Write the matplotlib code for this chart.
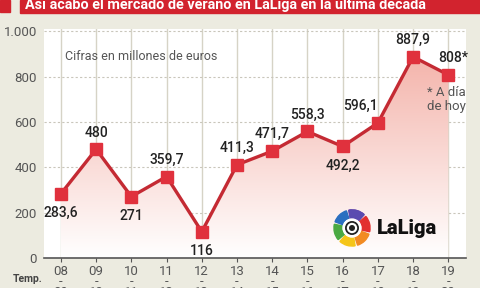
import matplotlib.pyplot as plt
import matplotlib.colors as mcolors
from matplotlib.patches import Rectangle, Wedge, Circle
import numpy as np

# data
seasons_top = ["08", "09", "10", "11", "12", "13", "14", "15", "16", "17", "18", "19"]
seasons_bot = ["09", "10", "11", "12", "13", "14", "15", "16", "17", "18", "19", "20"]
values = [283.6, 480, 271, 359.7, 116, 411.3, 471.7, 558.3, 492.2, 596.1, 887.9, 808]
labels = ["283,6", "480", "271", "359,7", "116", "411,3", "471,7", "558,3", "492,2", "596,1", "887,9", "808*"]
yticks = [0, 200, 400, 600, 800, 1000]
ytick_labels = ["0", "200", "400", "600", "800", "1.000"]

BG = "#ecebe0"
RED = "#d2232e"
LINE = "#c42a33"
GRID = "#d6d3c6"
FONT = "Roboto"

fig = plt.figure(figsize=(4.8, 2.88), dpi=100, facecolor=BG)
ax = fig.add_axes([0.0917, 0.104, 0.879, 0.795])
ax.set_facecolor("white")

x = np.arange(len(values))
ax.set_xlim(-0.48, 11.5)
ax.set_ylim(0, 1010)

# grid
for xi in x:
    ax.axvline(xi, color=GRID, lw=1.0, zorder=1)
for yv in yticks[1:]:
    ax.axhline(yv, color="#c9c6bb", lw=0.8, ls=(0, (2, 2)), zorder=1)

# gradient fill under the line
cmap = mcolors.LinearSegmentedColormap.from_list("fade", ["#ffffff", "#f4b3aa"])
grad = np.linspace(0, 1, 256).reshape(-1, 1)
poly = ax.fill_between(x, 0, values, color="none", lw=0)
img = ax.imshow(grad, cmap=cmap, aspect="auto", origin="lower",
                extent=[-0.48, 11.5, 0, 900], zorder=2)
img.set_clip_path(poly.get_paths()[0], transform=ax.transData)

ax.plot(x, values, color=LINE, lw=2.4, zorder=3)
ax.plot(x, values, ls="none", marker="s", ms=8, color="#e0313d", zorder=4)

# data labels
offsets = {0: (0, -1), 1: (0, 1), 2: (0, -1), 3: (0, 1), 4: (0, -1), 5: (0, 1),
           6: (0, 1), 7: (0, 1), 8: (0, -1), 9: (-0.35, 1), 10: (0, 1), 11: (0.1, 1)}
for i, (v, lab) in enumerate(zip(values, labels)):
    dx, up = offsets[i]
    if up > 0:
        ax.annotate(lab, (x[i], v), xytext=(dx * 35, 7), textcoords="offset points",
                    ha="center", va="bottom", fontsize=10, family=FONT,
                    fontweight="medium", color="#222222", zorder=5)
    else:
        ax.annotate(lab, (x[i], v), xytext=(dx * 35, -9), textcoords="offset points",
                    ha="center", va="top", fontsize=10, family=FONT,
                    fontweight="medium", color="#222222", zorder=5)

# axes styling
for s in ["top", "right", "left"]:
    ax.spines[s].set_visible(False)
ax.spines["bottom"].set_color("#555555")
ax.spines["bottom"].set_linewidth(1.2)
ax.set_yticks(yticks)
ax.set_yticklabels(ytick_labels, family=FONT, fontsize=9.5, color="#555555")
ax.tick_params(axis="y", length=0, pad=5)
ax.set_xticks(x)
ax.set_xticklabels([f"{a}\n-\n{b}" for a, b in zip(seasons_top, seasons_bot)],
                   family=FONT, fontsize=9.5, color="#555555", linespacing=0.75)
ax.tick_params(axis="x", length=3, color="#555555", pad=2)

# texts
ax.text(0.05, 0.88, "Cifras en millones de euros", transform=ax.transAxes,
        family=FONT, fontsize=9, color="#555555", va="center", zorder=5)
ax.text(10.95, 760, "* A día\nde hoy", ha="center", va="top", family=FONT,
        fontsize=9.5, color="#555555", linespacing=1.1, zorder=5)
fig.text(13 / 480, 1 - 279 / 288, "Temp.", family=FONT, fontsize=7.5,
         fontweight="bold", color="#444444", va="center")

# title bar (cut at the top)
fig.patches.append(Rectangle((0, 1 - 12 / 288), 10 / 480, 12 / 288, transform=fig.transFigure,
                             color=RED, zorder=0))
fig.patches.append(Rectangle((20 / 480, 1 - 13 / 288), 460 / 480, 13 / 288,
                             transform=fig.transFigure, color=RED, zorder=0))
fig.text(25 / 480, 1 - 9 / 288, "Así acabó el mercado de verano en LaLiga en la última década",
         family=FONT, fontsize=10.4, fontweight="bold", color="white", va="baseline")

# LaLiga logo
lax = fig.add_axes([333 / 480, 1 - 247 / 288, 38 / 480, 38 / 288])
lax.set_xlim(-1, 1)
lax.set_ylim(-1, 1)
lax.set_aspect("equal")
lax.axis("off")
cols = ["#7a3fa0", "#e2302f", "#f28b22", "#f5c518", "#4aa942", "#2a6fc0", "#5a4bb0"]
angles = [100, 40, -20, -80, -140, -200, -260]
for c, a in zip(cols, angles):
    lax.add_patch(Wedge((0, 0), 0.95, a - 52, a, width=0.42, color=c))
lax.add_patch(Circle((0, 0), 0.47, color="white"))
lax.add_patch(Circle((0, 0), 0.32, fill=False, ec="#222222", lw=1.3))
lax.add_patch(Circle((0, 0), 0.12, color="#222222"))
fig.text(377 / 480, 1 - 229 / 288, "LaLiga", family=FONT, fontsize=14.5,
         fontweight="black", color="#111111", va="center")

fig.savefig("out.png", dpi=100, facecolor=BG)
